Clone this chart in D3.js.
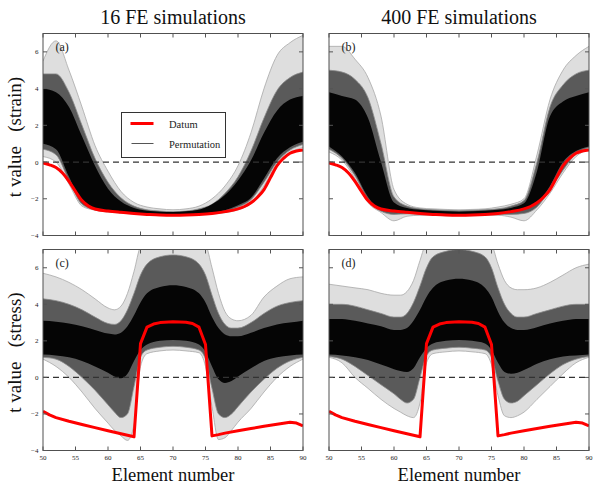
<!DOCTYPE html>
<html><head><meta charset="utf-8">
<script src="https://cdn.jsdelivr.net/npm/d3@7"></script>
<style>
html,body{margin:0;padding:0;background:#fff;}
svg{display:block;}
text{font-family:"Liberation Serif","Times New Roman",Times,"DejaVu Serif",serif;}
</style></head>
<body><svg id="chart" width="600" height="487"></svg>
<script>
// ---------------- data ----------------
const columnTitles = ["16 FE simulations", "400 FE simulations"];
const rowLabels = ["(strain)", "(stress)"];
const panelLetters = ["(a)", "(b)", "(c)", "(d)"];
const xTicks = [50, 55, 60, 65, 70, 75, 80, 85, 90];
const yTicks = [-4, -2, 0, 2, 4, 6];
const legendLabels = ["Datum", "Permutation"];

// red datum curves
const strainDatumX = [50,51,52,53,54,55,56,57,58,60,62,64,66,68,70,72,74,76,78,80,81,82,83,84,85,86,87,88,89,90];
const strainDatum  = [-0.05,-0.15,-0.3,-0.6,-1.05,-1.6,-2.1,-2.4,-2.56,-2.67,-2.74,-2.8,-2.85,-2.89,-2.9,-2.89,-2.86,-2.8,-2.7,-2.55,-2.42,-2.22,-1.92,-1.5,-0.85,-0.2,0.2,0.48,0.6,0.66];
const stressDatumX = [50,51,52,54,56,58,60,62,64,65,66,67,68,70,72,73,74,75,76,77,78,80,82,84,86,88,89,90];
const stressDatum  = [-1.85,-2.05,-2.2,-2.4,-2.58,-2.75,-2.92,-3.08,-3.25,1.85,2.75,2.92,3.0,3.05,3.02,2.95,2.75,1.8,-3.2,-3.13,-3.05,-2.92,-2.8,-2.67,-2.56,-2.45,-2.5,-2.65];

// permutation envelopes (outer = sparse lines, mid = many lines, core = dense)
const strainX = [50,52,54,56,58,60,62,64,66,68,70,72,74,76,78,80,82,84,86,88,90];
const aOuterHi = [5.5,6.6,5.0,3.0,0.9,-0.5,-1.6,-2.2,-2.45,-2.55,-2.6,-2.55,-2.4,-2.0,-1.3,-0.2,1.6,4.0,5.8,6.5,6.9];
const aOuterLo = [0.3,0.0,-1.2,-2.4,-2.62,-2.72,-2.78,-2.83,-2.87,-2.9,-2.92,-2.9,-2.87,-2.83,-2.76,-2.6,-2.25,-1.3,-0.1,0.5,0.8];
const aMidHi   = [4.8,4.8,3.8,2.0,0.2,-1.1,-1.95,-2.4,-2.6,-2.67,-2.7,-2.67,-2.55,-2.3,-1.7,-0.8,0.6,2.4,3.9,4.6,4.9];
const aMidLo   = [0.7,0.4,-1.0,-2.3,-2.6,-2.7,-2.76,-2.8,-2.85,-2.88,-2.9,-2.88,-2.85,-2.8,-2.7,-2.45,-2.05,-1.1,0.0,0.65,0.95];
const aCoreHi  = [4.0,3.8,3.0,1.4,-0.2,-1.45,-2.15,-2.5,-2.65,-2.7,-2.72,-2.68,-2.6,-2.3,-1.8,-1.0,0.1,1.6,2.8,3.4,3.6];
const aCoreLo  = [1.0,0.7,-0.8,-2.2,-2.55,-2.65,-2.72,-2.78,-2.82,-2.85,-2.87,-2.85,-2.82,-2.75,-2.62,-2.35,-1.95,-0.9,0.2,0.8,1.1];

const bOuterHi = [6.3,6.3,5.6,4.6,2.5,-1.5,-2.3,-2.5,-2.55,-2.58,-2.6,-2.58,-2.55,-2.45,-2.3,-2.0,0.4,3.4,5.0,5.8,6.3];
const bOuterLo = [0.55,0.1,-0.9,-2.2,-2.75,-3.2,-2.95,-2.9,-2.9,-2.92,-2.92,-2.92,-2.9,-2.9,-3.0,-3.2,-2.6,-1.7,-0.6,0.3,0.7];
const bMidHi   = [5.0,4.9,4.5,3.5,1.0,-1.9,-2.4,-2.55,-2.6,-2.63,-2.65,-2.63,-2.6,-2.55,-2.4,-2.1,0.0,3.0,4.2,4.8,5.0];
const bMidLo   = [0.7,0.2,-0.75,-2.05,-2.68,-2.85,-2.82,-2.84,-2.86,-2.87,-2.88,-2.87,-2.86,-2.85,-2.85,-2.8,-2.45,-1.5,-0.45,0.45,0.78];
const bCoreHi  = [3.8,3.6,3.4,2.4,0.0,-2.2,-2.5,-2.6,-2.65,-2.68,-2.7,-2.68,-2.65,-2.6,-2.5,-2.25,-0.5,2.5,3.3,3.6,3.8];
const bCoreLo  = [0.85,0.3,-0.6,-1.9,-2.6,-2.72,-2.76,-2.8,-2.82,-2.84,-2.85,-2.84,-2.82,-2.8,-2.72,-2.6,-2.25,-1.3,0.0,0.6,0.85];

const stressX = [50,52,54,56,58,60,61,62,63,64,65,66,68,70,72,74,75,76,77,78,79,80,82,84,86,88,90];
const cOuterHi = [5.7,5.5,5.2,4.8,4.3,3.8,3.7,3.9,4.6,5.8,7.2,7.6,7.6,7.6,7.6,7.6,7.3,6.0,4.6,3.6,3.2,3.1,3.4,4.4,5.0,5.4,5.5];
const cOuterLo = [1.0,0.6,0.0,-0.8,-1.7,-2.5,-2.9,-3.2,-3.45,-2.6,0.6,1.3,1.45,1.5,1.45,1.35,0.6,-1.6,-3.4,-3.3,-2.9,-2.45,-1.7,-0.8,0.0,0.6,1.0];
const cMidHi   = [4.3,4.2,4.0,3.7,3.3,2.95,2.9,3.1,3.7,4.6,5.6,6.2,6.6,6.7,6.6,6.2,5.6,4.5,3.5,2.9,2.7,2.7,3.0,3.5,3.9,4.1,4.2];
const cMidLo   = [1.1,1.0,0.6,0.0,-0.7,-1.5,-1.9,-2.2,-2.0,-0.5,1.1,1.5,1.65,1.7,1.65,1.5,1.0,-0.6,-2.0,-2.2,-2.0,-1.6,-0.8,-0.1,0.5,0.9,1.1];
const cCoreHi  = [3.1,3.05,2.95,2.8,2.6,2.4,2.35,2.45,2.8,3.4,4.1,4.6,4.95,5.05,4.95,4.6,4.1,3.3,2.7,2.35,2.25,2.25,2.45,2.7,2.9,3.0,3.1];
const cCoreLo  = [1.25,1.2,1.1,0.9,0.6,0.25,0.05,-0.05,0.2,0.9,1.5,1.8,2.0,2.05,2.0,1.8,1.4,0.6,-0.1,-0.3,-0.2,0.05,0.5,0.9,1.1,1.2,1.25];

const dOuterHi = [5.1,5.0,4.9,4.8,4.6,4.5,4.5,4.7,5.3,6.4,7.4,7.6,7.6,7.6,7.6,7.6,7.3,6.2,5.3,4.9,4.8,4.8,4.9,5.2,5.6,6.0,6.2];
const dOuterLo = [1.1,0.8,0.0,-0.6,-1.2,-1.7,-1.9,-2.1,-2.2,-1.4,0.8,1.3,1.4,1.45,1.4,1.3,0.7,-1.0,-2.1,-2.2,-2.1,-1.9,-1.2,-0.5,0.2,0.8,1.1];
const dMidHi   = [4.0,4.0,3.9,3.7,3.5,3.3,3.3,3.5,4.1,5.0,6.0,6.6,6.9,7.0,6.9,6.6,6.0,4.9,4.0,3.5,3.3,3.3,3.5,3.7,3.9,4.0,4.0];
const dMidLo   = [1.15,1.0,0.6,0.1,-0.4,-0.9,-1.2,-1.4,-1.2,0.0,1.2,1.5,1.6,1.65,1.6,1.5,1.1,-0.2,-1.2,-1.4,-1.3,-1.0,-0.4,0.2,0.7,1.0,1.15];
const dCoreHi  = [3.2,3.2,3.1,2.95,2.8,2.6,2.6,2.7,3.1,3.7,4.4,4.9,5.3,5.4,5.3,4.9,4.4,3.6,3.0,2.7,2.6,2.6,2.75,2.95,3.1,3.2,3.2];
const dCoreLo  = [1.25,1.2,1.1,0.95,0.7,0.45,0.35,0.3,0.5,1.1,1.6,1.85,2.0,2.05,2.0,1.85,1.5,0.8,0.3,0.2,0.25,0.4,0.75,1.0,1.15,1.2,1.25];

// ---------------- drawing ----------------
const FONT = "'Liberation Serif','Times New Roman',Times,'DejaVu Serif',serif";
const svg = d3.select("#chart").attr("font-family", FONT);
const colX = [[43, 303], [329, 589]];
const rowY = [[33.5, 235.5], [249.5, 450.5]];

const panels = [
  {col:0,row:0,letter:panelLetters[0],bx:strainX,b:[aOuterHi,aOuterLo,aMidHi,aMidLo,aCoreHi,aCoreLo],dx:strainDatumX,dy:strainDatum,smooth:true},
  {col:1,row:0,letter:panelLetters[1],bx:strainX,b:[bOuterHi,bOuterLo,bMidHi,bMidLo,bCoreHi,bCoreLo],dx:strainDatumX,dy:strainDatum,smooth:true},
  {col:0,row:1,letter:panelLetters[2],bx:stressX,b:[cOuterHi,cOuterLo,cMidHi,cMidLo,cCoreHi,cCoreLo],dx:stressDatumX,dy:stressDatum,smooth:false},
  {col:1,row:1,letter:panelLetters[3],bx:stressX,b:[dOuterHi,dOuterLo,dMidHi,dMidLo,dCoreHi,dCoreLo],dx:stressDatumX,dy:stressDatum,smooth:false}
];

const defs = svg.append("defs");

panels.forEach((p, i) => {
  const [x0, x1] = colX[p.col];
  const [y0, y1] = rowY[p.row];
  const x = d3.scaleLinear().domain([50, 90]).range([x0, x1]);
  const y = d3.scaleLinear().domain([-4, 7]).range([y1, y0]);
  const clipId = "clip" + i;
  defs.append("clipPath").attr("id", clipId).append("rect")
    .attr("x", x0).attr("y", y0).attr("width", x1 - x0).attr("height", y1 - y0);
  const g = svg.append("g");
  const inner = g.append("g").attr("clip-path", `url(#${clipId})`);

  const band = (hi, lo) => d3.area()
    .x((d, k) => x(p.bx[k])).y0((d, k) => y(lo[k])).y1((d, k) => y(hi[k]))
    .curve(d3.curveMonotoneX)(hi);
  const edge = (arr) => d3.line().x((d, k) => x(p.bx[k])).y(d => y(d)).curve(d3.curveMonotoneX)(arr);

  const [oH, oL, mH, mL, cH, cL] = p.b;
  inner.append("path").attr("d", band(oH, oL)).attr("fill", "#dedede");
  [oH, oL].forEach(a => inner.append("path").attr("d", edge(a)).attr("fill", "none")
    .attr("stroke", "#a8a8a8").attr("stroke-width", 0.8));
  inner.append("path").attr("d", band(mH, mL)).attr("fill", "#5a5a5a");
  [mH, mL].forEach(a => inner.append("path").attr("d", edge(a)).attr("fill", "none")
    .attr("stroke", "#8a8a8a").attr("stroke-width", 0.8));
  inner.append("path").attr("d", band(cH, cL)).attr("fill", "#050505");

  // zero line
  inner.append("line").attr("x1", x0).attr("x2", x1).attr("y1", y(0)).attr("y2", y(0))
    .attr("stroke", "#333").attr("stroke-width", 1.2).attr("stroke-dasharray", "6,4");

  // datum
  inner.append("path")
    .attr("d", d3.line().x((d, k) => x(p.dx[k])).y(d => y(d))
      .curve(p.smooth ? d3.curveMonotoneX : d3.curveLinear)(p.dy))
    .attr("fill", "none").attr("stroke", "#ff0000").attr("stroke-width", 3)
    .attr("stroke-linejoin", "round");

  // frame
  g.append("rect").attr("x", x0).attr("y", y0).attr("width", x1 - x0).attr("height", y1 - y0)
    .attr("fill", "none").attr("stroke", "#505050").attr("stroke-width", 1);

  // ticks (inside, all four sides)
  const tl = 4;
  xTicks.forEach(t => {
    g.append("line").attr("x1", x(t)).attr("x2", x(t)).attr("y1", y1).attr("y2", y1 - tl).attr("stroke", "#555");
    g.append("line").attr("x1", x(t)).attr("x2", x(t)).attr("y1", y0).attr("y2", y0 + tl).attr("stroke", "#555");
  });
  yTicks.forEach(t => {
    g.append("line").attr("x1", x0).attr("x2", x0 + tl).attr("y1", y(t)).attr("y2", y(t)).attr("stroke", "#555");
    g.append("line").attr("x1", x1).attr("x2", x1 - tl).attr("y1", y(t)).attr("y2", y(t)).attr("stroke", "#555");
  });
  if (p.row === 1) {
    xTicks.forEach(t => {
      g.append("text").attr("x", x(t)).attr("y", y1 + 9.5).attr("text-anchor", "middle")
        .attr("font-size", 7).attr("fill", "#222").text(t);
    });
  }
  if (p.col === 0) {
    yTicks.forEach(t => {
      g.append("text").attr("x", x0 - 4.5).attr("y", y(t) + 2.5).attr("text-anchor", "end")
        .attr("font-size", 7).attr("fill", "#222").text(t < 0 ? "\u2212" + Math.abs(t) : t);
    });
    g.append("text")
      .attr("transform", `translate(21,${(y0 + y1) / 2 + 2.5}) rotate(-90)`)
      .attr("text-anchor", "middle").attr("font-size", 19).attr("fill", "#111")
      .text("t value\u00a0\u00a0\u00a0" + rowLabels[p.row]);
  }
  if (p.row === 0) {
    g.append("text").attr("x", (x0 + x1) / 2).attr("y", 23.5).attr("text-anchor", "middle")
      .attr("font-size", 20).attr("fill", "#111").text(columnTitles[p.col]);
  } else {
    g.append("text").attr("x", (x0 + x1) / 2).attr("y", 480.5).attr("text-anchor", "middle")
      .attr("font-size", 18.5).attr("fill", "#111").text("Element number");
  }
  g.append("text").attr("x", x0 + 12.5).attr("y", y0 + 17).attr("font-size", 12)
    .attr("fill", "#222").text(p.letter);

  // legend in panel (a)
  if (i === 0) {
    const lg = g.append("g");
    lg.append("rect").attr("x", 121.5).attr("y", 112.5).attr("width", 104).attr("height", 45)
      .attr("fill", "#fff").attr("stroke", "#333").attr("stroke-width", 1);
    lg.append("line").attr("x1", 130.5).attr("x2", 153.5).attr("y1", 123.5).attr("y2", 123.5)
      .attr("stroke", "#ff0000").attr("stroke-width", 3);
    lg.append("line").attr("x1", 131.5).attr("x2", 153.5).attr("y1", 143.5).attr("y2", 143.5)
      .attr("stroke", "#555").attr("stroke-width", 1);
    lg.append("text").attr("x", 169).attr("y", 127.5).attr("font-size", 10.5).attr("fill", "#222").text(legendLabels[0]);
    lg.append("text").attr("x", 169).attr("y", 147.5).attr("font-size", 10.5).attr("fill", "#222").text(legendLabels[1]);
  }
});
</script></body></html>
